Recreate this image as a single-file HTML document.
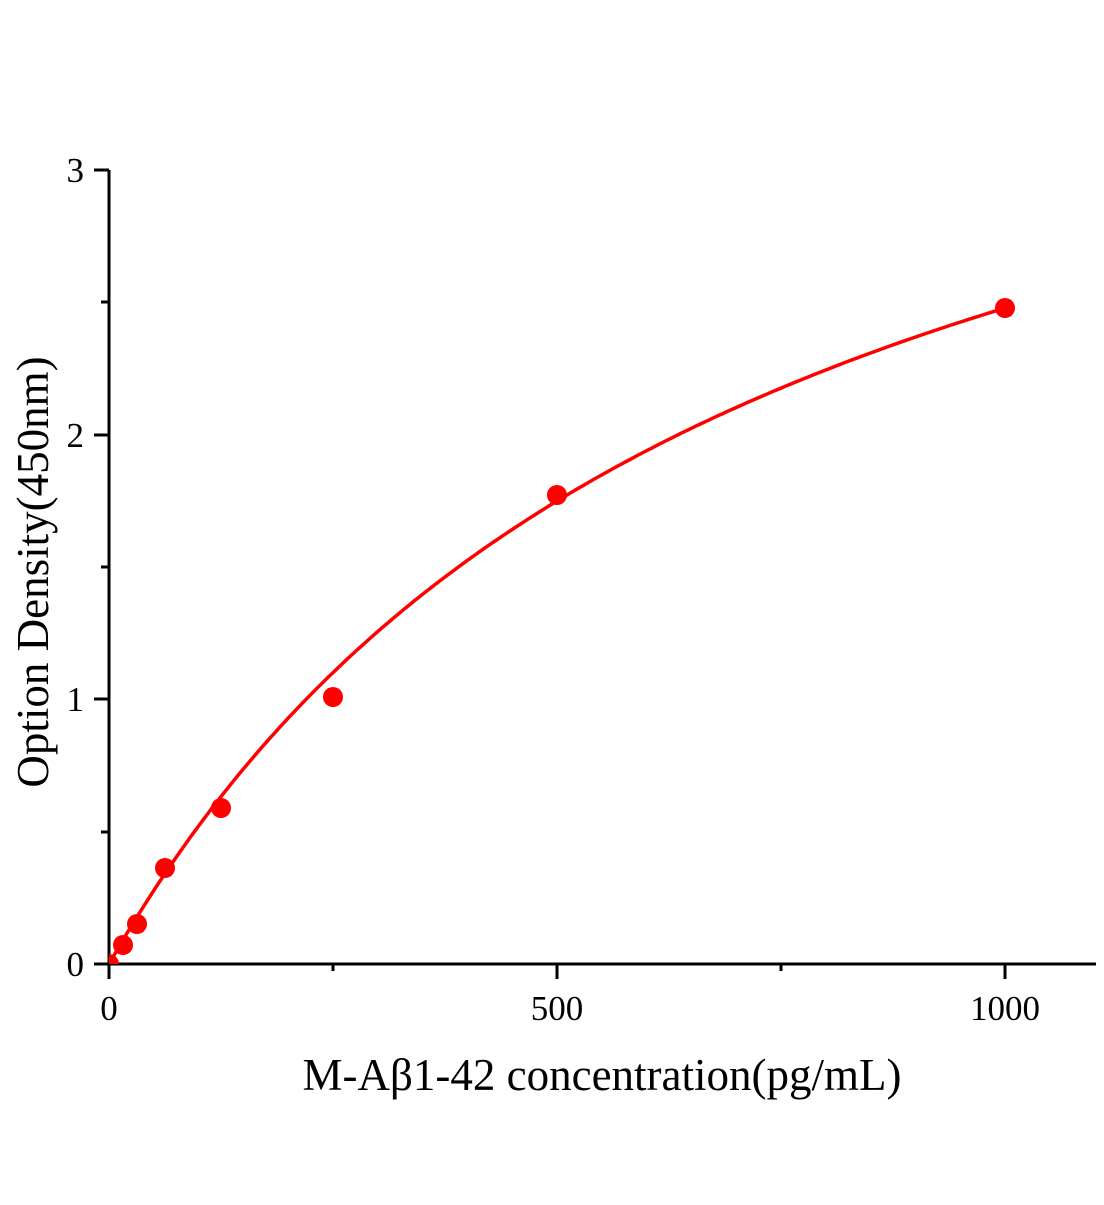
<!DOCTYPE html>
<html><head><meta charset="utf-8"><style>body{margin:0;background:#fff}</style></head><body>
<svg id="s" width="1104" height="1200" xmlns="http://www.w3.org/2000/svg" font-family="Liberation Serif, serif">
<defs><clipPath id="c"><rect x="109" y="100" width="1000" height="864"/></clipPath></defs>
<g stroke="#000" stroke-width="3" fill="none">
<line x1="109" y1="170" x2="109" y2="979"/>
<line x1="94" y1="964" x2="1096" y2="964"/>
<line x1="94" y1="170" x2="109" y2="170"/>
<line x1="94" y1="435" x2="109" y2="435"/>
<line x1="94" y1="699" x2="109" y2="699"/>
<line x1="101" y1="302" x2="109" y2="302"/>
<line x1="101" y1="567" x2="109" y2="567"/>
<line x1="101" y1="832" x2="109" y2="832"/>
<line x1="557" y1="964" x2="557" y2="979"/>
<line x1="1005" y1="964" x2="1005" y2="979"/>
<line x1="333" y1="964" x2="333" y2="971"/>
<line x1="781" y1="964" x2="781" y2="971"/>
</g>
<g font-size="35" text-anchor="end">
<text x="84" y="976">0</text><text x="84" y="711">1</text><text x="84" y="447">2</text><text x="84" y="182">3</text>
</g>
<g font-size="35" text-anchor="middle">
<text x="109" y="1020">0</text><text x="557" y="1020">500</text><text x="1005" y="1020">1000</text>
</g>
<text x="602" y="1090" font-size="45" text-anchor="middle">M-Aβ1-42 concentration(pg/mL)</text>
<text transform="translate(48,572) rotate(-90)" font-size="45" text-anchor="middle">Option Density(450nm)</text>
<g clip-path="url(#c)" fill="#f00">
<path id="p" fill="none" stroke="#f00" stroke-width="3.5"/>
<circle cx="109" cy="964" r="10"/>
<circle cx="123" cy="945" r="10"/>
<circle cx="137" cy="924" r="10"/>
<circle cx="165" cy="868" r="10"/>
<circle cx="221" cy="808" r="10"/>
<circle cx="333" cy="697" r="10"/>
<circle cx="557" cy="495" r="10"/>
<circle cx="1005" cy="308" r="10"/>
</g>
</svg>
<script>
var d="";for(var x=0;x<=1000;x+=5){var y=4.25*x/(715+x);d+=(x?"L":"M")+(109+x*0.896).toFixed(1)+" "+(964-y*264.7).toFixed(1);}
document.getElementById("p").setAttribute("d",d);
</script>
</body></html>
